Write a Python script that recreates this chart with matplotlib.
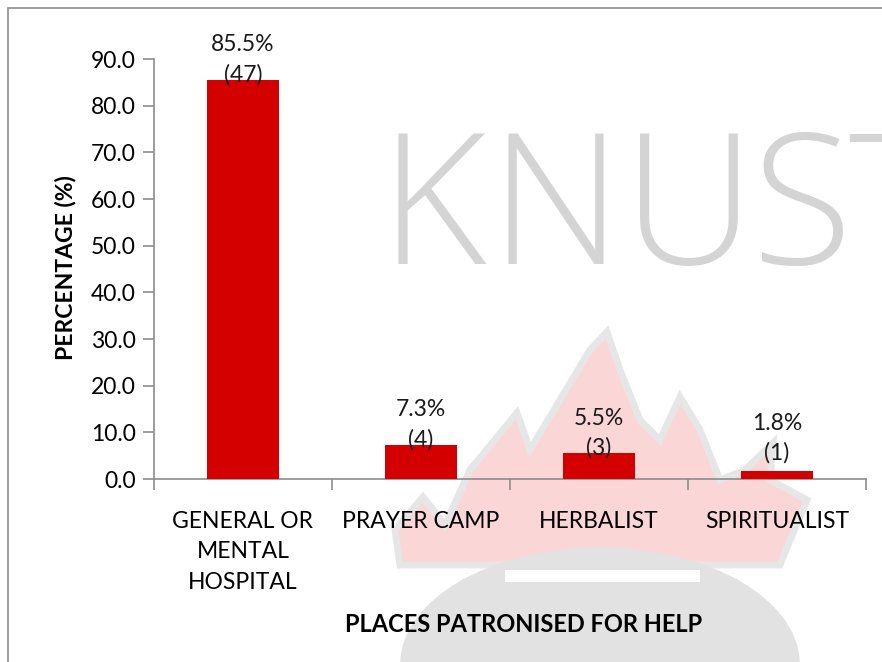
import matplotlib
matplotlib.use("Agg")
import matplotlib.pyplot as plt
from matplotlib.patches import Polygon, Ellipse, Rectangle

# data
places = ["GENERAL OR\nMENTAL\nHOSPITAL", "PRAYER CAMP", "HERBALIST", "SPIRITUALIST"]
percent = [85.5, 7.3, 5.5, 1.8]
counts = [47, 4, 3, 1]
y_ticks = [0, 10, 20, 30, 40, 50, 60, 70, 80, 90]

plt.rcParams['font.family'] = ['Lato', 'Open Sans', 'DejaVu Sans']

W, H = 882, 662
fig = plt.figure(figsize=(W / 100, H / 100), dpi=100)


def px(x, y):
    # pixel position (from top-left) to figure fraction
    return (x / W, 1 - y / H)


# faint KNUST watermark behind the chart (letters spaced like the scan)
for ch, lx in zip("KNUST", [380, 490, 623, 752, 848]):
    fig.text(*px(lx, 264), ch, fontsize=132, color="#d4d4d4", family=["Open Sans", "DejaVu Sans"],
             fontweight=300, ha="left", va="baseline", zorder=0)
flame = [(400, 565), (395, 530), (423, 497), (445, 525), (470, 470), (517, 413),
         (530, 450), (560, 400), (590, 350), (607, 332), (620, 370), (640, 420),
         (660, 440), (680, 397), (700, 430), (720, 480), (745, 470), (773, 443),
         (770, 480), (807, 500), (790, 540), (780, 565)]
fig.patches.append(Polygon([px(*p) for p in flame], closed=True, transform=fig.transFigure,
                           facecolor="#fbd6d6", edgecolor="#e6e6e6", lw=5, zorder=0))
fig.patches.append(Ellipse(px(600, 665), 400 / W, 235 / H, transform=fig.transFigure,
                           facecolor="#e2e2e2", edgecolor="none", zorder=0))
fig.patches.append(Rectangle(px(505, 582), 195 / W, 12 / H, transform=fig.transFigure,
                             facecolor="white", edgecolor="none", zorder=0))

# outer frame of the chart area
fig.patches.append(Rectangle(px(8, 700), 900 / W, 692 / H, transform=fig.transFigure,
                             facecolor="none", edgecolor="#8c8c8c", lw=1.2, zorder=1))

ax = fig.add_axes([154 / W, 1 - 479 / H, 712 / W, 420 / H])
ax.set_zorder(5)
ax.patch.set_alpha(0)

x = list(range(len(places)))
ax.bar(x, percent, width=0.4, color="#d40000", zorder=3)

for xi, v, n in zip(x, percent, counts):
    ax.annotate(f"{v}%\n({n})", (xi, max(v, 4.4)), xytext=(0, -4), textcoords="offset points",
                ha="center", va="bottom", fontsize=16.5, linespacing=1.5, color="#1a1a1a", zorder=4)

ax.set_xlim(-0.5, len(places) - 0.5)
ax.set_ylim(0, 90)
ax.set_yticks(y_ticks)
ax.set_yticklabels([f"{t:.1f}" for t in y_ticks], fontsize=16.5)
ax.set_xticks(x)
ax.set_xticklabels(places, fontsize=16.5, linespacing=1.55)
ax.set_xticks([i - 0.5 for i in range(len(places) + 1)], minor=True)
ax.tick_params(axis="x", which="major", length=0, pad=23)
ax.tick_params(axis="x", which="minor", length=8, color="#8c8c8c", width=1.2)
ax.tick_params(axis="y", length=8, color="#8c8c8c", width=1.2, pad=5)

for s in ["top", "right"]:
    ax.spines[s].set_visible(False)
for s in ["left", "bottom"]:
    ax.spines[s].set_color("#8c8c8c")
    ax.spines[s].set_linewidth(1.2)

fig.text(*px(66, 268), "PERCENTAGE (%)", rotation=90, fontsize=16.5, fontweight="bold",
         ha="center", va="center")
fig.text(*px(524, 625), "PLACES PATRONISED FOR HELP", fontsize=17, fontweight="bold",
         ha="center", va="center")

fig.savefig("out.png", dpi=100)
